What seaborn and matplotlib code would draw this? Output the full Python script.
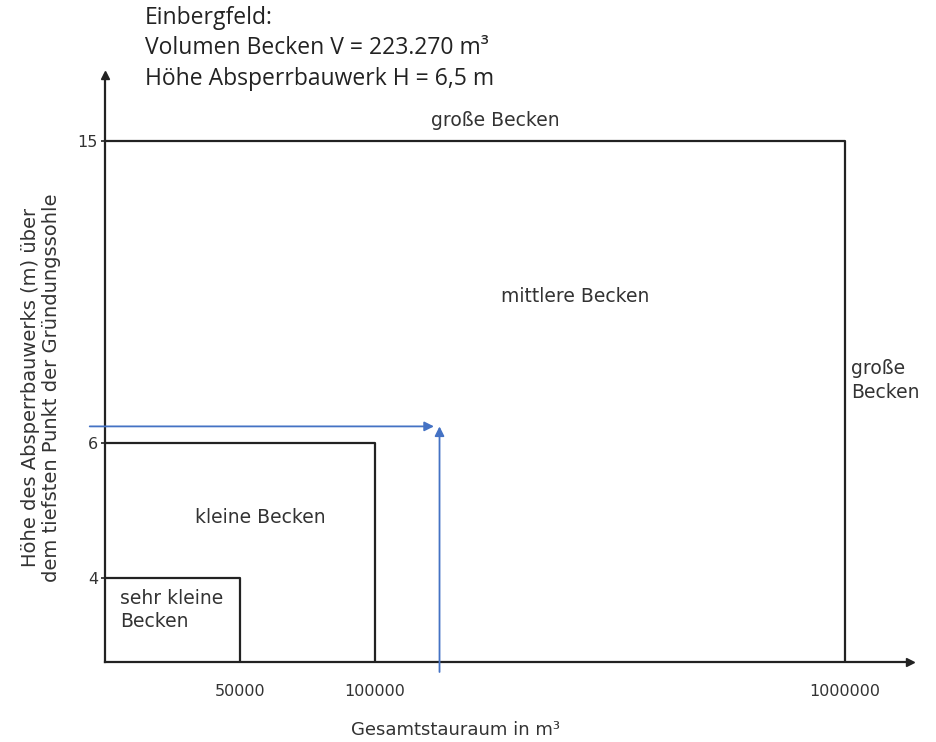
import numpy as np
import pandas as pd
import matplotlib
matplotlib.use("Agg")
import matplotlib.pyplot as plt
import seaborn as sns

# Beckenklassen (Grenzen)
klassen = ["sehr kleine Becken", "kleine Becken", "mittlere Becken"]
klassen_volumen = [50000, 100000, 1000000]   # m3
klassen_hoehe = [4, 6, 15]                  # m

# Einbergfeld
V_becken = 223270
H_absperr = 6.5

x_ticks = [50000, 100000, 1000000]
y_ticks = [4, 6, 15]

# schematische (nicht lineare) Achsen wie in der Vorlage
x_knoten = [0, 50000, 100000, 1000000, 1100000]
x_pos = [0, 1, 2, 5.48, 5.96]
y_knoten = [0, 4, 6, 15, 17]
y_pos = [0, 0.622, 1.622, 3.859, 4.35]

def fx(v):
    return np.interp(v, x_knoten, x_pos)

def fx_inv(v):
    return np.interp(v, x_pos, x_knoten)

def fy(v):
    return np.interp(v, y_knoten, y_pos)

def fy_inv(v):
    return np.interp(v, y_pos, y_knoten)

# Umrisse der Klassen-Rechtecke
zeilen = []
for name, w, h in zip(klassen, klassen_volumen, klassen_hoehe):
    zeilen += [(name, 0, h), (name, w, h), (name, w, 0)]
df = pd.DataFrame(zeilen, columns=["klasse", "volumen", "hoehe"])

sns.set_theme(style="white")
plt.rcParams["font.family"] = ["DejaVu Sans"]

fig = plt.figure(figsize=(9.36, 7.42), dpi=100)
ax = fig.add_axes([0.1122, 0.1078, 0.86, 0.791])
ax.set_xscale("function", functions=(fx, fx_inv))
ax.set_yscale("function", functions=(fy, fy_inv))

sns.lineplot(data=df, x="volumen", y="hoehe", units="klasse", estimator=None,
             sort=False, color="#222222", lw=1.6, ax=ax)

ax.set_xlim(0, 1100000)
ax.set_ylim(0, 17)

for s in ["top", "right"]:
    ax.spines[s].set_visible(False)
for s in ["left", "bottom"]:
    ax.spines[s].set_color("#222222")
    ax.spines[s].set_linewidth(1.6)
ax.plot(1, 0, ">", color="#222222", ms=6, transform=ax.transAxes, clip_on=False)
ax.plot(0, 1, "^", color="#222222", ms=6, transform=ax.transAxes, clip_on=False)

ax.set_xticks(x_ticks)
ax.set_xticklabels([str(t) for t in x_ticks])
ax.set_yticks(y_ticks)
ax.set_yticklabels([str(t) for t in y_ticks])
ax.tick_params(axis="x", length=0, pad=16, labelsize=11.5, labelcolor="#333333")
ax.tick_params(axis="y", left=True, length=3, width=1.2, color="#222222", pad=2,
               labelsize=11.5, labelcolor="#333333")
ax.minorticks_off()

ax.set_xlabel("Gesamtstauraum in m³", fontsize=13, color="#333333", va="center")
ax.xaxis.set_label_coords(0.435, -0.116)
ax.set_ylabel("Höhe des Absperrbauwerks (m) über\ndem tiefsten Punkt der Gründungssohle",
              fontsize=14, color="#333333", linespacing=1.15, va="center")
ax.yaxis.set_label_coords(-0.0795, 0.467)

# Beschriftungen der Klassen
txt = dict(fontsize=13.5, color="#333333", transform=ax.transAxes)
ax.text(0.4845, 0.923, "große Becken", ha="center", va="center", **txt)
ax.text(0.584, 0.622, "mittlere Becken", ha="center", va="center", **txt)
ax.text(0.927, 0.48, "große\nBecken", ha="left", va="center", linespacing=1.3, **txt)
ax.text(0.1925, 0.247, "kleine Becken", ha="center", va="center", **txt)
ax.text(0.0186, 0.0886, "sehr kleine\nBecken", ha="left", va="center", linespacing=1.3, **txt)

# Einordnung Einbergfeld
blau = "#4472C4"
ax.annotate("", xy=(V_becken, H_absperr), xycoords="data",
            xytext=(-0.019, H_absperr), textcoords=("axes fraction", "data"),
            arrowprops=dict(arrowstyle="-|>", color=blau, lw=1.3, mutation_scale=14,
                            shrinkA=0, shrinkB=4), annotation_clip=False)
ax.annotate("", xy=(V_becken, H_absperr), xycoords="data",
            xytext=(V_becken, -0.017), textcoords=("data", "axes fraction"),
            arrowprops=dict(arrowstyle="-|>", color=blau, lw=1.3, mutation_scale=14,
                            shrinkA=0, shrinkB=0), annotation_clip=False)

fig.text(0.155, 0.992,
         f"Einbergfeld:\nVolumen Becken V = {V_becken:,} m³\nHöhe Absperrbauwerk H = {H_absperr:.1f} m"
         .replace(",", ".").replace("6.5 m", "6,5 m"),
         family="Open Sans", fontsize=16.5, color="#222222", ha="left", va="top",
         linespacing=1.36)

fig.savefig("out.png", dpi=100, facecolor="white")
